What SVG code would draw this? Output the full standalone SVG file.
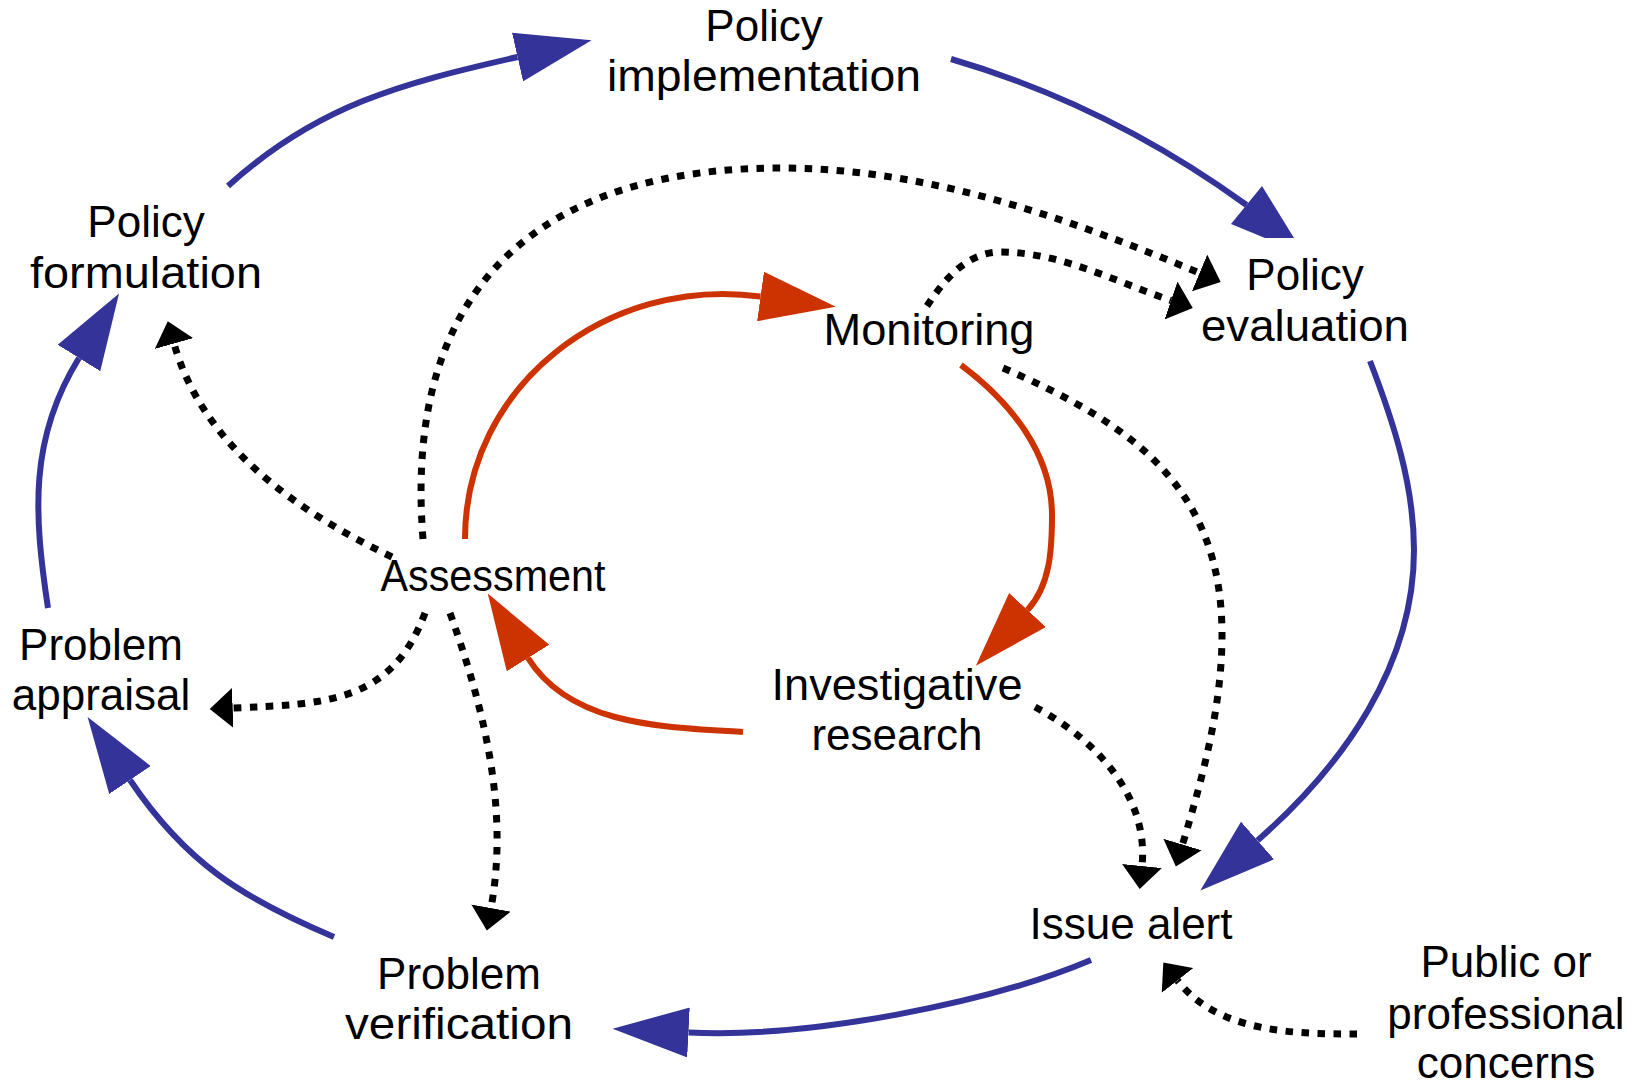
<svg xmlns="http://www.w3.org/2000/svg" width="1642" height="1086" viewBox="0 0 1642 1086">
  <style>
    .lbl { font-family: "Liberation Sans", Arial, sans-serif; font-size: 44px; fill: #000; text-anchor: middle; }
    .blue { fill: none; stroke: #333399; stroke-width: 6; }
    .red { fill: none; stroke: #cc3300; stroke-width: 6; }
    .dot { fill: none; stroke: #000; stroke-width: 7; stroke-dasharray: 7.5 8.5; }
    .blue-fill { fill: #333399; }
  </style>
  <defs>
    <marker id="head-blue" markerUnits="userSpaceOnUse" viewBox="0 0 77 50" markerWidth="77" markerHeight="50" refX="0" refY="25" orient="auto">
      <path d="M0,0 L76,25 L0,50 z" fill="#333399"/>
    </marker>
    <marker id="head-red" markerUnits="userSpaceOnUse" viewBox="0 0 77 50" markerWidth="77" markerHeight="50" refX="0" refY="25" orient="auto">
      <path d="M0,0 L76,25 L0,50 z" fill="#cc3300"/>
    </marker>
    <marker id="head-dot" markerUnits="userSpaceOnUse" viewBox="0 0 24 40" markerWidth="24" markerHeight="40" refX="0" refY="20" orient="auto">
      <path d="M0,0 L23,20 L0,40 z" fill="#000"/>
    </marker>
  </defs>

  <!-- connectors -->
  <g id="connectors">
    <!-- outer policy cycle -->
    <path id="formulation-to-implementation" class="blue" marker-end="url(#head-blue)" d="M228,186 C316.8,105.6 400.5,83.6 517.5,57"/>
    <path id="implementation-to-evaluation" class="blue" d="M951,59 C1057,90 1157,140 1246.5,205"/>
    <polygon class="blue-fill" points="1231,224 1262,186 1294,238 1265,238"/>
    <path id="evaluation-to-alert" class="blue" marker-end="url(#head-blue)" d="M1370,361 C1393.4,421.5 1414,485 1414,550 C1414,665 1344,764.7 1257.5,840.5"/>
    <path id="alert-to-verification" class="blue" marker-end="url(#head-blue)" d="M1091,960 C989.8,1002.9 808.5,1038.5 688.5,1032.5"/>
    <path id="verification-to-appraisal" class="blue" marker-end="url(#head-blue)" d="M334,937 C242,898 185.8,863 130,780"/>
    <path id="appraisal-to-formulation" class="blue" marker-end="url(#head-blue)" d="M48,608 C33.8,514 28.9,438.8 79,358"/>

    <!-- inner research cycle -->
    <path id="assessment-to-monitoring" class="red" marker-end="url(#head-red)" d="M465,539 C465,385.3 608.2,275.6 760.5,296.5"/>
    <path id="monitoring-to-research" class="red" marker-end="url(#head-red)" d="M961,365 C1010.4,402 1052,453.3 1052,515 C1052,548.8 1050.4,585.2 1027.5,610"/>
    <path id="research-to-assessment" class="red" marker-end="url(#head-red)" d="M743,732 C663,727 570.4,726 528,658"/>

    <!-- information flows -->
    <path id="assessment-to-formulation" class="dot" marker-end="url(#head-dot)" d="M392,557 C296.2,511.2 202.7,445.6 174,343.5"/>
    <path id="assessment-to-evaluation" class="dot" marker-end="url(#head-dot)" d="M423,539 C401.4,269 560,168 780,168 C925,168 1065.8,217 1199.5,273"/>
    <path id="monitoring-to-evaluation" class="dot" marker-end="url(#head-dot)" d="M927,306 C944.5,279 967.8,252 1000,252 C1059.6,252 1114.6,281.2 1171,300.5"/>
    <path id="monitoring-to-alert" class="dot" marker-end="url(#head-dot)" d="M1003,368 C1136,425.6 1222,490 1222,635 C1222,706 1203,776.5 1182.5,844.5"/>
    <path id="research-to-alert" class="dot" marker-end="url(#head-dot)" d="M1035,707 C1096.3,739.8 1149,796.6 1142,866"/>
    <path id="concerns-to-alert" class="dot" marker-end="url(#head-dot)" d="M1357,1034 C1291.3,1034 1218,1032.2 1177.5,980.5"/>
    <path id="assessment-to-appraisal" class="dot" marker-end="url(#head-dot)" d="M425,613 C392,702 327.7,704.2 232.7,708"/>
    <path id="assessment-to-verification" class="dot" marker-end="url(#head-dot)" d="M450,613 C484,708 509.2,809 491,908"/>
  </g>

  <!-- nodes -->
  <g id="policy-implementation">
    <text class="lbl" x="764" y="41">Policy</text>
    <text class="lbl" x="764" y="91" textLength="314" lengthAdjust="spacingAndGlyphs">implementation</text>
  </g>
  <g id="policy-formulation">
    <text class="lbl" x="146" y="237">Policy</text>
    <text class="lbl" x="146" y="288" textLength="232" lengthAdjust="spacingAndGlyphs">formulation</text>
  </g>
  <g id="policy-evaluation">
    <text class="lbl" x="1305" y="290">Policy</text>
    <text class="lbl" x="1305" y="341" textLength="208" lengthAdjust="spacingAndGlyphs">evaluation</text>
  </g>
  <g id="monitoring">
    <text class="lbl" x="929" y="345" textLength="211" lengthAdjust="spacingAndGlyphs">Monitoring</text>
  </g>
  <g id="assessment">
    <text class="lbl" x="493" y="591" textLength="225" lengthAdjust="spacingAndGlyphs">Assessment</text>
  </g>
  <g id="problem-appraisal">
    <text class="lbl" x="101" y="660">Problem</text>
    <text class="lbl" x="101" y="710">appraisal</text>
  </g>
  <g id="investigative-research">
    <text class="lbl" x="897" y="700" textLength="251" lengthAdjust="spacingAndGlyphs">Investigative</text>
    <text class="lbl" x="897" y="750">research</text>
  </g>
  <g id="issue-alert">
    <text class="lbl" x="1131" y="939">Issue alert</text>
  </g>
  <g id="problem-verification">
    <text class="lbl" x="459" y="989">Problem</text>
    <text class="lbl" x="459" y="1039" textLength="228" lengthAdjust="spacingAndGlyphs">verification</text>
  </g>
  <g id="public-concerns">
    <text class="lbl" x="1506" y="977">Public or</text>
    <text class="lbl" x="1506" y="1029">professional</text>
    <text class="lbl" x="1506" y="1078">concerns</text>
  </g>
</svg>
